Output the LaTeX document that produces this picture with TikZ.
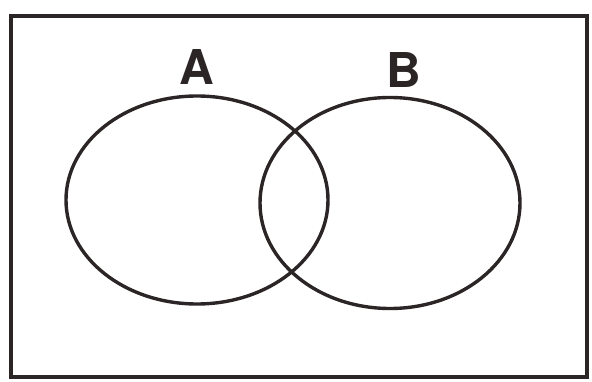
\documentclass[tikz,border=0pt]{standalone}
\usepackage{fontspec}
\setsansfont{TeX Gyre Heros}
\usetikzlibrary{shapes.geometric}
\definecolor{ink}{HTML}{2B2526}
\tikzset{
  frame/.style={line width=3.6pt, ink},
  setring/.style={ellipse, draw=ink, line width=3.4pt, inner sep=0pt},
  setname/.style={anchor=base, inner sep=0pt, text=ink, font=\sffamily\bfseries\fontsize{48}{48}\selectfont},
}
\begin{document}
\begin{tikzpicture}[x=1pt,y=-1pt]
  \useasboundingbox (0,0) rectangle (592,382);
  % universe
  \draw[frame] (11,16) rectangle (587,377);
  % the two sets
  \node[setring, minimum width=262pt, minimum height=208pt] (setA) at (197,200) {};
  \node[setring, minimum width=260pt, minimum height=211pt] (setB) at (390,203) {};
  % set names
  \node[setname] (nameA) at (197,85) {A};
  \node[setname] (nameB) at (404,88) {B};
\end{tikzpicture}
\end{document}
